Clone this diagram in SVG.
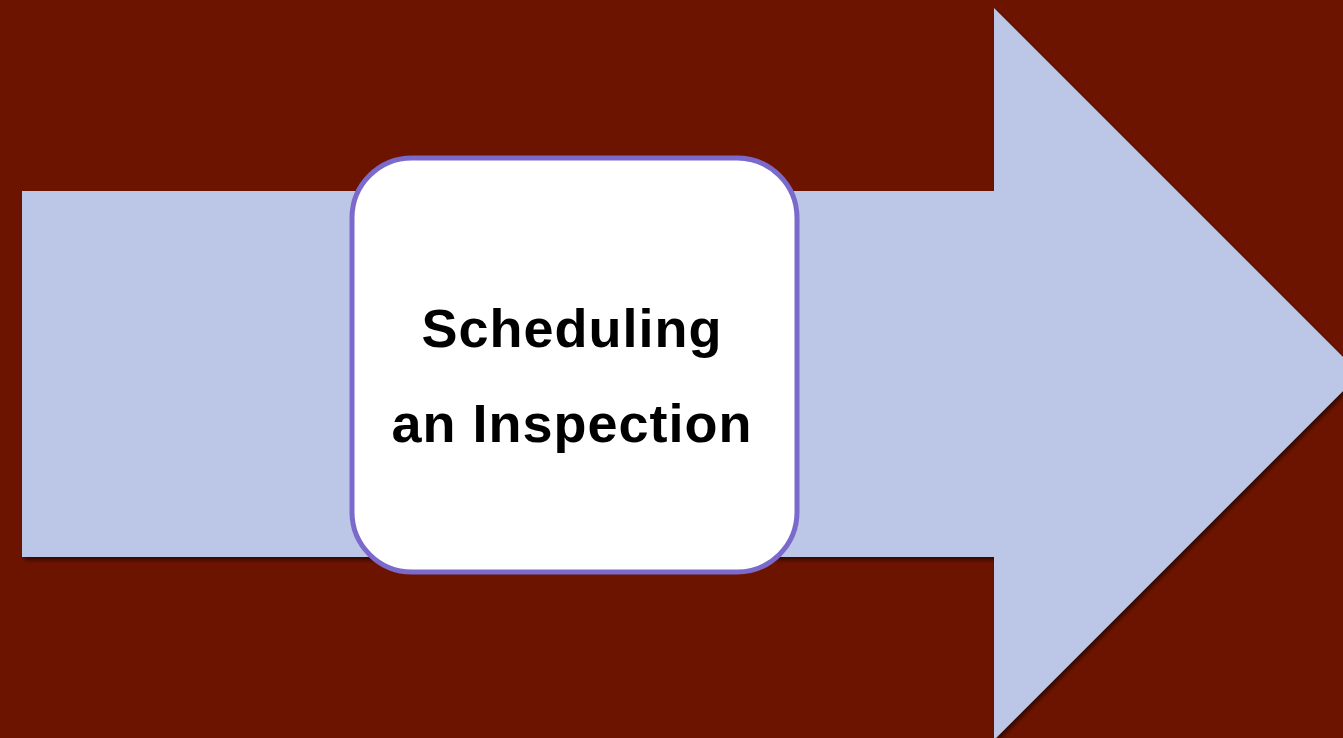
<svg xmlns="http://www.w3.org/2000/svg" width="1343" height="738" viewBox="0 0 1343 738">
  <defs>
    <filter id="shadow" x="-5%" y="-5%" width="110%" height="110%">
      <feDropShadow dx="2" dy="3" stdDeviation="2" flood-color="#000000" flood-opacity="0.55"/>
    </filter>
    <style>
      .label { font-family: "Liberation Sans", Arial, sans-serif; font-weight: bold; font-size: 54px; fill: #000000; text-anchor: middle; letter-spacing: 1px; }
      .box { fill: #ffffff; stroke: #7b6acb; stroke-width: 5; }
      .arrow { fill: #bcc6e6; }
    </style>
  </defs>
  <rect x="0" y="0" width="1343" height="738" fill="#6d1400"/>
  <g id="connectors">
    <path class="arrow" filter="url(#shadow)" d="M22,191 L994,191 L994,8 L1360,374 L994,740 L994,557 L22,557 Z"/>
  </g>
  <g id="node-scheduling">
    <rect class="box" x="352" y="158" width="445" height="414" rx="60" ry="60"/>
    <text class="label" x="572" y="347">Scheduling</text>
    <text class="label" x="572" y="442">an Inspection</text>
  </g>
</svg>
